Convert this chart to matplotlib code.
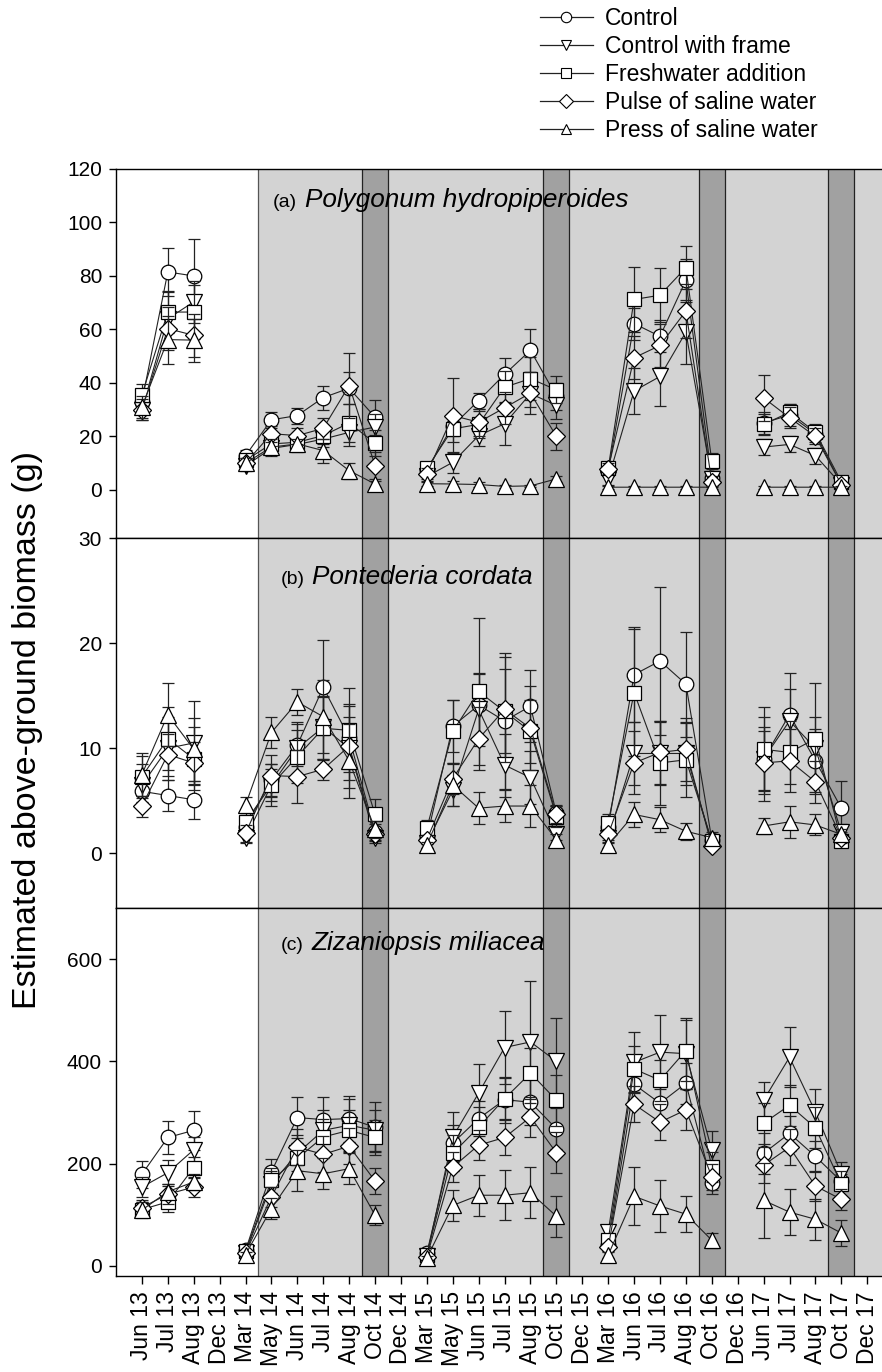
import numpy as np
import matplotlib
matplotlib.use("Agg")
import matplotlib.pyplot as plt
from matplotlib.lines import Line2D

plt.rcParams['font.family'] = ['Liberation Sans', 'DejaVu Sans']

nan = np.nan
months = ["Jun 13", "Jul 13", "Aug 13", "Dec 13", "Mar 14", "May 14", "Jun 14", "Jul 14",
          "Aug 14", "Oct 14", "Dec 14", "Mar 15", "May 15", "Jun 15", "Jul 15", "Aug 15",
          "Oct 15", "Dec 15", "Mar 16", "Jun 16", "Jul 16", "Aug 16", "Oct 16", "Dec 16",
          "Jun 17", "Jul 17", "Aug 17", "Oct 17", "Dec 17"]
treatments = ["Control", "Control with frame", "Freshwater addition",
              "Pulse of saline water", "Press of saline water"]

# ---- Panel (a) Polygonum hydropiperoides ----
a_control = [33, 81.5, 80, nan, 12.8, 26.2, 27.8, 34.5, 38, 27.2, nan, 7.5, 24, 33.4, 43.2, 52.2, 35, nan, 7, 62.2, 57.4, 78.4, 4.5, nan, 25, 28, 21, 2, nan]
a_frame = [30, 64, 70.3, nan, 9, 15.5, 17, 19, 21.5, 23.5, nan, 5, 10.3, 20.3, 24.7, 36, 31.6, nan, 4, 37, 42.4, 59, 4, nan, 16, 17, 12.8, 2, nan]
a_fresh = [35.5, 66.5, 66.5, nan, 11, 17.2, 17.8, 20.3, 25, 17.5, nan, 8, 22.8, 24.5, 38.4, 41.6, 37.4, nan, 8, 71.2, 72.8, 83.1, 10.7, nan, 24.5, 29, 21.6, 3, nan]
a_pulse = [30, 60.3, 57.8, nan, 10, 21, 20.3, 23, 39, 9.1, nan, 6, 27.8, 25.3, 30.7, 36.2, 20, nan, 7.9, 49.4, 54, 66.9, 3, nan, 34.4, 27, 20, 2, nan]
a_press = [31, 56.2, 56, nan, 10, 16, 17.2, 14.7, 7.2, 2.2, nan, 2.3, 2.2, 2, 1.3, 1.5, 4.1, nan, 1, 1, 1, 1, 1, nan, 1, 1, 1, 1, nan]
a_control_se = [4, 9, 14, nan, 2, 3, 3, 4.5, 6, 6.5, nan, 2, 4, 3, 6, 8, 5, nan, 2, 6, 6, 8, 2, nan, 4, 4, 3, 1, nan]
a_frame_se = [4, 10, 8, nan, 2, 3, 3, 3, 5, 5, nan, 2, 4, 4, 8, 5, 5, nan, 2, 8.5, 11, 12, 2, nan, 3, 3, 3, 1, nan]
a_fresh_se = [4, 8, 10, nan, 2, 2, 2, 3, 7, 5, nan, 2, 5, 5, 6, 8, 5, nan, 2, 12, 10, 8, 3, nan, 4, 3, 3, 1, nan]
a_pulse_se = [4, 8, 8, nan, 2, 3, 3, 4, 12, 5, nan, 2, 14, 5, 6, 8, 5, nan, 2, 8, 8, 10, 2, nan, 8.5, 4, 3, 1, nan]
a_press_se = [4, 9, 8, nan, 2, 3, 2, 4.5, 3, 1, nan, 1, 1, 1, 0.5, 0.5, 1, nan, 0.5, 0.5, 0.5, 0.5, 0.5, nan, 0.5, 0.5, 0.5, 0.5, nan]

# ---- Panel (b) Pontederia cordata ----
b_control = [5.9, 5.5, 5.1, nan, 2.5, 7, 10.3, 15.8, 11, 2, nan, 1.5, 12.1, 14.1, 12.6, 14, 3.8, nan, 2.5, 17, 18.3, 16.1, 1.3, nan, 9, 13.2, 8.8, 4.3, nan]
b_frame = [6.5, 10, 10.5, nan, 1.5, 6.5, 10, 12, 10, 1.5, nan, 1, 6, 13.7, 8.4, 7.2, 1.8, nan, 1.5, 9.5, 9.5, 9.5, 1, nan, 9, 12.6, 10, 2, nan]
b_fresh = [7.3, 10.9, 9, nan, 3, 6.5, 9.2, 11.9, 11.7, 3.7, nan, 2.4, 11.6, 15.4, 13.5, 11.6, 3.5, nan, 2.9, 15.3, 8.6, 8.9, 1.2, nan, 9.9, 9.6, 10.9, 1.2, nan]
b_pulse = [4.5, 9.4, 8.6, nan, 1.9, 7.4, 7.3, 8, 10.2, 1.8, nan, 1.3, 7.1, 10.9, 13.7, 11.9, 3.7, nan, 1.8, 8.6, 9.6, 9.9, 0.7, nan, 8.6, 8.8, 6.8, 1.5, nan]
b_press = [7.5, 13.2, 9.9, nan, 4.6, 11.5, 14.4, 13, 8.8, 2.3, nan, 0.8, 6.5, 4.3, 4.5, 4.5, 1.3, nan, 0.8, 3.7, 3.2, 2.1, 1.5, nan, 2.6, 3, 2.7, 1.8, nan]
b_control_se = [1, 1.5, 1.8, nan, 0.8, 1.5, 2, 4.5, 3, 0.8, nan, 0.5, 2.5, 3, 6.5, 3.4, 0.8, nan, 0.6, 4.5, 7, 5, 0.4, nan, 4, 4, 3, 2.6, nan]
b_frame_se = [2, 3, 4, nan, 0.5, 1.5, 2.5, 3, 3, 0.5, nan, 0.5, 1.5, 3.5, 3, 2.5, 0.5, nan, 0.5, 3, 3, 3, 0.4, nan, 3, 3, 3, 0.8, nan]
b_fresh_se = [2, 3, 3, nan, 0.8, 2, 2.5, 3, 4, 1.5, nan, 0.8, 3, 7, 4, 3, 1, nan, 0.8, 6, 4, 3.5, 0.5, nan, 4, 3, 5.3, 0.5, nan]
b_pulse_se = [1, 2, 2, nan, 0.8, 2, 2.5, 1, 4, 0.5, nan, 0.4, 1.5, 3, 5, 4, 0.8, nan, 0.5, 3, 3, 3, 0.3, nan, 3, 3, 2, 0.5, nan]
b_press_se = [2, 3, 3, nan, 0.8, 1.5, 1.2, 3.5, 3.5, 0.8, nan, 0.3, 2, 1.5, 1.5, 2, 0.5, nan, 0.3, 1.2, 1.2, 0.8, 0.5, nan, 0.8, 1.5, 1, 0.5, nan]

# ---- Panel (c) Zizaniopsis miliacea ----
c_control = [179, 251, 265, nan, 30, 184, 290, 286, 288, 271, nan, 25, 240, 288, 325, 320, 268, nan, 40, 355, 318, 357, 161, nan, 220, 259, 214, 165, nan]
c_frame = [154, 182, 227, nan, 25, 160, 220, 265, 275, 265, nan, 20, 252, 338, 427, 438, 400, nan, 66, 398, 418, 415, 226, nan, 324, 408, 301, 180, nan]
c_fresh = [110, 125, 192, nan, 28, 167, 210, 252, 265, 251, nan, 22, 220, 271, 327, 377, 324, nan, 50, 385, 363, 421, 193, nan, 279, 314, 270, 160, nan]
c_pulse = [114, 140, 154, nan, 25, 135, 232, 218, 234, 166, nan, 18, 193, 236, 251, 291, 221, nan, 36, 316, 281, 305, 174, nan, 197, 232, 156, 130, nan]
c_press = [109, 145, 164, nan, 22, 112, 186, 180, 190, 99, nan, 15, 118, 138, 138, 143, 97, nan, 21, 136, 117, 101, 50, nan, 128, 105, 91, 64, nan]
c_control_se = [26, 33, 38, nan, 8, 25, 40, 44, 45, 49, nan, 5, 35, 35, 45, 45, 40, nan, 10, 40, 35, 40, 20, nan, 40, 35, 30, 15, nan]
c_frame_se = [20, 25, 25, nan, 6, 25, 35, 40, 52, 40, nan, 5, 48, 56, 71, 120, 85, nan, 10, 59, 72, 70, 38, nan, 35, 59, 45, 23, nan]
c_fresh_se = [15, 20, 20, nan, 6, 25, 30, 35, 40, 35, nan, 5, 35, 40, 40, 50, 50, nan, 10, 45, 40, 60, 30, nan, 40, 40, 40, 25, nan]
c_pulse_se = [15, 20, 20, nan, 6, 20, 35, 35, 35, 25, nan, 4, 30, 30, 35, 40, 40, nan, 8, 35, 35, 40, 25, nan, 35, 35, 30, 20, nan]
c_press_se = [15, 15, 15, nan, 5, 20, 40, 30, 30, 20, nan, 4, 30, 40, 49, 50, 40, nan, 5, 57, 50, 35, 15, nan, 73, 45, 40, 25, nan]

panels = [
    dict(tag="(a)", species="Polygonum hydropiperoides", ylim=(-18, 120), yticks=[0, 20, 40, 60, 80, 100, 120],
         series=[(a_control, a_control_se), (a_frame, a_frame_se), (a_fresh, a_fresh_se), (a_pulse, a_pulse_se), (a_press, a_press_se)],
         tagpos=(273, 207), sppos=(305, 207)),
    dict(tag="(b)", species="Pontederia cordata", ylim=(-5.2, 30), yticks=[0, 10, 20, 30],
         series=[(b_control, b_control_se), (b_frame, b_frame_se), (b_fresh, b_fresh_se), (b_pulse, b_pulse_se), (b_press, b_press_se)],
         tagpos=(281, 584), sppos=(312, 584)),
    dict(tag="(c)", species="Zizaniopsis miliacea", ylim=(-20, 700), yticks=[0, 200, 400, 600],
         series=[(c_control, c_control_se), (c_frame, c_frame_se), (c_fresh, c_fresh_se), (c_pulse, c_pulse_se), (c_press, c_press_se)],
         tagpos=(281, 950), sppos=(312, 950)),
]

markers = ['o', 'v', 's', 'D', '^']
msizes = [10.5, 11, 9.5, 9.5, 11]

W, H = 882, 1372
fig = plt.figure(figsize=(W / 100, H / 100), dpi=100)

bounds = [(169, 538), (538, 908), (908, 1276)]
left_px = 116
x = np.arange(len(months))
xmin, xmax = -1, 28.57
light = '#d3d3d3'
dark = '#a1a1a1'
oct_idx = [9, 16, 22, 27]

for i, (p, (top, bot)) in enumerate(zip(panels, bounds)):
    ax = fig.add_axes([left_px / W, 1 - bot / H, 1 - left_px / W, (bot - top) / H])
    ax.set_xlim(xmin, xmax)
    ax.set_ylim(*p['ylim'])
    ax.axvspan(4.5, xmax + 1, facecolor=light, edgecolor='none', zorder=0)
    ax.axvline(4.5, color='#555555', lw=0.9, zorder=0.5)
    for o in oct_idx:
        ax.axvspan(o - 0.5, o + 0.5, facecolor=dark, edgecolor='none', zorder=0.2)
        ax.axvline(o - 0.5, color='#222222', lw=0.9, zorder=0.5)
        ax.axvline(o + 0.5, color='#222222', lw=0.9, zorder=0.5)
    for k, (vals, se) in enumerate(p['series']):
        ax.errorbar(x, vals, yerr=se, fmt='-', marker=markers[k], ms=msizes[k],
                    mfc='white', mec='black', mew=0.9, color='#222222', lw=0.8,
                    ecolor='#222222', elinewidth=0.9, capsize=4.5, capthick=0.9,
                    zorder=3 + k)
    ax.set_yticks(p['yticks'])
    ax.tick_params(axis='y', direction='out', length=5, width=1, labelsize=15, pad=5)
    ax.spines['right'].set_visible(False)
    for s in ['left', 'top', 'bottom']:
        ax.spines[s].set_linewidth(1)
        ax.spines[s].set_zorder(10)
    if i < 2:
        ax.set_xticks([])
    else:
        ax.set_xticks(x)
        ax.set_xticklabels(months, rotation=90, fontsize=16.5)
        ax.tick_params(axis='x', direction='out', length=6, width=1, pad=5)
    fig.text(p['tagpos'][0] / W, 1 - p['tagpos'][1] / H, p['tag'], fontsize=14,
             ha='left', va='baseline')
    fig.text(p['sppos'][0] / W, 1 - p['sppos'][1] / H, p['species'], fontsize=18.8,
             style='italic', ha='left', va='baseline')

fig.text(28 / W, 1 - 730 / H, "Estimated above-ground biomass (g)", rotation=90,
         fontsize=24.5, ha='center', va='center')

handles = [Line2D([0], [0], color='#222222', lw=0.9, marker=m, ms=7.5, mfc='white',
                  mec='black', mew=0.8) for m in markers]
fig.legend(handles, treatments, loc='upper left', bbox_to_anchor=(540 / W, 1 - 7 / H),
           frameon=False, fontsize=16.5, handlelength=2.3, handletextpad=0.55,
           labelspacing=0.22, borderpad=0, borderaxespad=0)

fig.savefig("out.png", dpi=100)
